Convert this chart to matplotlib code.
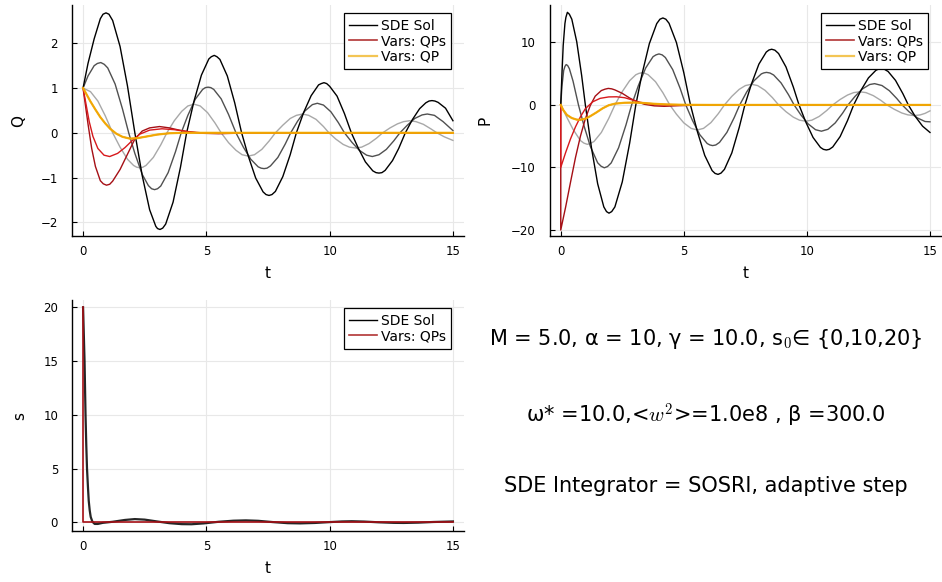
import matplotlib.pyplot as plt
from matplotlib.lines import Line2D

plt.rcParams['font.family'] = ['DejaVu Sans']
plt.rcParams['mathtext.fontset'] = 'cm'

# ---- Q panel ----
q_sde20_t = [0, 0.2, 0.45, 0.7, 0.81, 0.93, 1.05, 1.2, 1.5, 1.8, 2.1, 2.4, 2.7, 2.95, 3.02, 3.12, 3.23,
             3.35, 3.65, 3.95, 4.2, 4.5, 4.8, 5.1, 5.2, 5.32, 5.43, 5.55, 5.85, 6.15, 6.43, 6.7, 7.0,
             7.3, 7.42, 7.54, 7.66, 7.8, 8.1, 8.4, 8.65, 8.95, 9.25, 9.55, 9.66, 9.77, 9.88, 10.0, 10.3,
             10.6, 10.88, 11.15, 11.45, 11.75, 11.88, 12.0, 12.12, 12.25, 12.55, 12.8, 13.07, 13.35,
             13.65, 13.9, 14.03, 14.15, 14.27, 14.4, 14.7, 15.0]
q_sde20 = [1.0, 1.55, 2.1, 2.55, 2.65, 2.68, 2.65, 2.51, 1.93, 1.05, 0.0, -0.96, -1.72, -2.09, -2.14,
           -2.16, -2.13, -2.04, -1.55, -0.77, 0.0, 0.71, 1.29, 1.65, 1.70, 1.73, 1.70, 1.64, 1.27, 0.67,
           0.0, -0.52, -1.01, -1.32, -1.38, -1.40, -1.38, -1.31, -0.98, -0.49, 0.0, 0.46, 0.83, 1.07,
           1.10, 1.12, 1.10, 1.04, 0.82, 0.43, 0.0, -0.33, -0.65, -0.85, -0.89, -0.90, -0.89, -0.84,
           -0.62, -0.35, 0.0, 0.29, 0.54, 0.67, 0.71, 0.72, 0.71, 0.68, 0.55, 0.27]

q_sde10_t = [0, 0.2, 0.45, 0.58, 0.72, 0.86, 1.0, 1.3, 1.6, 1.85, 2.1, 2.4, 2.65, 2.78, 2.9, 3.02, 3.15,
             3.45, 3.75, 3.98, 4.25, 4.55, 4.85, 4.96, 5.07, 5.18, 5.3, 5.6, 5.9, 6.2, 6.5, 6.8, 7.1,
             7.22, 7.34, 7.46, 7.6, 7.9, 8.2, 8.42, 8.7, 9.0, 9.3, 9.5, 9.75, 10.05, 10.35, 10.6, 10.9,
             11.2, 11.5, 11.73, 12.0, 12.3, 12.6, 12.85, 13.15, 13.45, 13.75, 13.96, 14.25, 14.6, 15.0]
q_sde10 = [1.0, 1.27, 1.5, 1.55, 1.57, 1.53, 1.45, 1.09, 0.53, 0.0, -0.46, -0.93, -1.18, -1.25, -1.27,
           -1.25, -1.19, -0.89, -0.42, 0.0, 0.39, 0.75, 0.97, 1.01, 1.02, 1.01, 0.97, 0.76, 0.41, 0.0,
           -0.32, -0.59, -0.76, -0.79, -0.80, -0.79, -0.74, -0.55, -0.25, 0.0, 0.26, 0.49, 0.63, 0.66,
           0.62, 0.47, 0.23, 0.0, -0.21, -0.39, -0.50, -0.53, -0.49, -0.37, -0.18, 0.0, 0.17, 0.32,
           0.40, 0.42, 0.39, 0.25, 0.05]

q_sde0_t = [0, 0.3, 0.6, 0.9, 1.2, 1.5, 1.8, 2.05, 2.18, 2.3, 2.42, 2.55, 2.85, 3.15, 3.4, 3.7, 4.0,
            4.25, 4.5, 4.75, 5.05, 5.35, 5.6, 5.9, 6.2, 6.45, 6.7, 6.95, 7.25, 7.55, 7.8, 8.1, 8.4, 8.65,
            8.9, 9.15, 9.45, 9.75, 9.97, 10.25, 10.55, 10.8, 11.05, 11.3, 11.6, 11.9, 12.15, 12.45,
            12.75, 13.0, 13.25, 13.5, 13.8, 14.1, 14.35, 14.65, 15.0]
q_sde0 = [1.0, 0.92, 0.71, 0.38, 0.0, -0.32, -0.59, -0.73, -0.77, -0.78, -0.77, -0.73, -0.55, -0.27,
          0.0, 0.27, 0.48, 0.60, 0.64, 0.60, 0.45, 0.22, 0.0, -0.22, -0.39, -0.49, -0.52, -0.49, -0.37,
          -0.18, 0.0, 0.17, 0.32, 0.39, 0.42, 0.39, 0.30, 0.14, 0.0, -0.14, -0.26, -0.32, -0.34, -0.32,
          -0.24, -0.12, 0.0, 0.11, 0.20, 0.25, 0.27, 0.25, 0.19, 0.09, 0.0, -0.09, -0.17]

q_qps20_t = [0, 0.1, 0.2, 0.35, 0.5, 0.7, 0.82, 0.95, 1.08, 1.2, 1.5, 1.8, 2.1, 2.4, 2.7, 3.1, 3.5, 3.9,
             4.3, 4.8, 5.5, 6.5, 8.0, 15.0]
q_qps20 = [1.0, 0.6, 0.2, -0.35, -0.75, -1.07, -1.14, -1.17, -1.15, -1.08, -0.82, -0.48, -0.14, 0.04,
           0.11, 0.14, 0.11, 0.06, 0.02, -0.01, -0.02, -0.005, 0.0, 0.0]

q_qps10_t = [0, 0.1, 0.25, 0.4, 0.6, 0.85, 1.08, 1.4, 1.7, 2.0, 2.3, 2.7, 3.2, 3.7, 4.2, 4.8, 15.0]
q_qps10 = [1.0, 0.7, 0.25, -0.08, -0.35, -0.5, -0.53, -0.46, -0.33, -0.17, -0.03, 0.06, 0.09, 0.07,
           0.03, 0.0, 0.0]

q_qp_t = [0, 0.15, 0.3, 0.5, 0.7, 0.9, 1.1, 1.35, 1.6, 1.9, 2.2, 2.6, 3.0, 3.5, 4.0, 15.0]
q_qp = [1.0, 0.85, 0.7, 0.52, 0.35, 0.21, 0.09, -0.02, -0.09, -0.13, -0.12, -0.08, -0.04, -0.01, 0.0, 0.0]

# ---- P panel ----
p_sde20_t = [0, 0.05, 0.1, 0.17, 0.21, 0.27, 0.35, 0.45, 0.65, 0.85, 1.0, 1.25, 1.5, 1.75, 1.86, 1.96,
             2.07, 2.2, 2.5, 2.8, 3.05, 3.3, 3.6, 3.9, 4.03, 4.15, 4.27, 4.4, 4.7, 5.0, 5.27, 5.55, 5.85,
             6.15, 6.27, 6.39, 6.51, 6.65, 6.95, 7.25, 7.48, 7.75, 8.05, 8.35, 8.46, 8.57, 8.7, 8.85,
             9.15, 9.45, 9.68, 9.95, 10.25, 10.55, 10.67, 10.79, 10.91, 11.05, 11.35, 11.65, 11.9,
             12.2, 12.5, 12.8, 12.9, 13.02, 13.14, 13.3, 13.6, 13.9, 14.12, 14.4, 14.7, 15.0]
p_sde20 = [0.0, 5.0, 9.5, 13.0, 14.0, 14.8, 14.5, 13.7, 10.1, 4.7, 0.0, -6.9, -12.6, -16.3, -17.05,
           -17.3, -17.05, -16.3, -12.3, -6.1, 0.0, 4.9, 9.8, 13.0, 13.7, 13.9, 13.7, 13.05, 9.97, 5.14,
           0.0, -4.25, -8.07, -10.5, -10.95, -11.1, -10.9, -10.3, -7.67, -3.61, 0.0, 3.38, 6.52, 8.45,
           8.78, 8.9, 8.75, 8.21, 6.07, 2.84, 0.0, -2.69, -5.2, -6.79, -7.1, -7.2, -7.1, -6.72, -5.06,
           -2.5, 0.0, 2.36, 4.32, 5.52, 5.72, 5.8, 5.72, 5.34, 3.92, 1.79, 0.0, -1.83, -3.4, -4.4]

p_sde10_t = [0, 0.05, 0.12, 0.17, 0.22, 0.28, 0.35, 0.5, 0.72, 0.95, 1.2, 1.5, 1.64, 1.77, 1.9, 2.05,
             2.35, 2.65, 2.88, 3.15, 3.45, 3.75, 3.87, 3.99, 4.12, 4.25, 4.55, 4.85, 5.08, 5.35, 5.65,
             5.95, 6.06, 6.17, 6.3, 6.45, 6.75, 7.05, 7.27, 7.55, 7.85, 8.15, 8.25, 8.36, 8.5, 8.65,
             8.95, 9.25, 9.48, 9.75, 10.05, 10.35, 10.59, 10.85, 11.15, 11.45, 11.67, 11.95, 12.25,
             12.55, 12.75, 13.05, 13.35, 13.65, 13.87, 14.15, 14.5, 14.8, 15.0]
p_sde10 = [0.0, 3.0, 5.5, 6.15, 6.45, 6.3, 5.8, 3.8, 0.0, -3.4, -6.6, -9.25, -9.8, -10.05, -9.85, -9.27,
           -6.85, -3.2, 0.0, 3.05, 5.9, 7.71, 8.0, 8.15, 8.0, 7.58, 5.64, 2.65, 0.0, -2.47, -4.76,
           -6.17, -6.4, -6.5, -6.4, -5.99, -4.39, -2.0, 0.0, 2.04, 3.86, 4.96, 5.12, 5.2, 5.1, 4.78,
           3.52, 1.65, 0.0, -1.57, -3.03, -3.96, -4.2, -3.9, -2.88, -1.32, 0.0, 1.34, 2.54, 3.26, 3.4,
           3.1, 2.27, 1.03, 0.0, -1.1, -2.1, -2.65, -2.7]

p_sde0_t = [0, 0.25, 0.5, 0.8, 0.94, 1.08, 1.21, 1.35, 1.65, 1.95, 2.2, 2.5, 2.8, 3.05, 3.18, 3.3, 3.42,
            3.55, 3.85, 4.15, 4.43, 4.7, 5.0, 5.3, 5.55, 5.8, 6.1, 6.4, 6.65, 6.95, 7.25, 7.5, 7.75, 8.0,
            8.3, 8.6, 8.85, 9.15, 9.45, 9.7, 9.95, 10.2, 10.5, 10.8, 11.05, 11.35, 11.65, 11.9, 12.15,
            12.4, 12.7, 13.0, 13.25, 13.55, 13.85, 14.1, 14.35, 14.6, 14.8, 15.0]
p_sde0 = [0.0, -2.0, -3.9, -5.7, -6.1, -6.3, -6.15, -5.85, -4.4, -2.16, 0.0, 2.13, 3.88, 4.82, 5.05,
          5.14, 5.05, 4.83, 3.71, 1.95, 0.0, -1.48, -2.87, -3.76, -4.0, -3.75, -2.83, -1.4, 0.0, 1.37,
          2.49, 3.09, 3.3, 3.09, 2.33, 1.16, 0.0, -1.08, -1.96, -2.44, -2.6, -2.44, -1.84, -0.91, 0.0,
          0.87, 1.58, 1.97, 2.1, 1.97, 1.48, 0.74, 0.0, -0.7, -1.28, -1.59, -1.7, -1.6, -1.35, -0.95]

p_qps20_t = [0, 0, 0.2, 0.4, 0.6, 0.8, 1.0, 1.2, 1.4, 1.65, 1.8, 1.93, 2.07, 2.2, 2.5, 2.8, 3.1, 3.4,
             3.8, 4.2, 4.8, 5.5, 6.5, 15.0]
p_qps20 = [0.0, -20.0, -16.3, -12.3, -8.4, -5.0, -2.2, -0.1, 1.4, 2.3, 2.52, 2.64, 2.57, 2.4, 1.85, 1.1,
           0.5, 0.1, -0.15, -0.22, -0.12, -0.04, 0.0, 0.0]

p_qps10_t = [0, 0, 0.2, 0.4, 0.6, 0.8, 1.0, 1.3, 1.6, 1.95, 2.27, 2.6, 2.9, 3.2, 3.6, 4.0, 4.5, 5.2,
             6.0, 15.0]
p_qps10 = [0.0, -10.0, -7.6, -5.4, -3.5, -1.9, -0.6, 0.5, 1.05, 1.28, 1.3, 1.15, 0.8, 0.45, 0.15, 0.0,
           -0.05, -0.02, 0.0, 0.0]

p_qp_t = [0, 0.1, 0.25, 0.45, 0.65, 0.8, 1.0, 1.2, 1.45, 1.7, 1.95, 2.2, 2.6, 3.0, 3.4, 3.8, 4.3, 5.0,
          6.0, 15.0]
p_qp = [0.0, -0.8, -1.6, -2.1, -2.35, -2.38, -2.2, -1.8, -1.2, -0.55, -0.05, 0.2, 0.35, 0.38, 0.3, 0.18,
        0.08, 0.02, 0.0, 0.0]

# ---- s panel ----
s_sde_t = [0, 0.03, 0.06, 0.1, 0.13, 0.16, 0.2, 0.23, 0.27, 0.31, 0.38, 0.47, 0.6, 0.8, 1.2, 1.7, 2.1,
           2.5, 3.0, 3.5, 4.0, 4.4, 4.9, 5.5, 6.1, 6.6, 7.1, 7.7, 8.3, 8.8, 9.4, 10.0, 10.5, 10.9, 11.4,
           12.0, 12.6, 13.0, 13.6, 14.2, 15.0]
s_sde = [20.0, 17.5, 15.0, 10.0, 7.2, 5.0, 3.2, 2.0, 1.1, 0.5, 0.05, -0.15, -0.15, -0.05, 0.05, 0.22,
         0.3, 0.25, 0.08, -0.08, -0.17, -0.18, -0.1, 0.05, 0.15, 0.18, 0.14, 0.02, -0.08, -0.1, -0.06,
         0.02, 0.08, 0.1, 0.07, 0.0, -0.05, -0.06, -0.03, 0.03, 0.08]
s_qps_t = [0, 0, 15.0]
s_qps = [20.0, 0.0, 0.0]

x_ticks = [0, 5, 10, 15]
q_ticks = [-2, -1, 0, 1, 2]
p_ticks = [-20, -10, 0, 10]
s_ticks = [0, 5, 10, 15, 20]

info_lines = [
    "M = 5.0, α = 10, γ = 10.0, s$_0$∈ {0,10,20}",
    "ω* =10.0,<$w^2$>=1.0e8 , β =300.0",
    "SDE Integrator = SOSRI, adaptive step",
]

c_black, c_dgray, c_lgray = '#000000', '#505050', '#a8a8a8'
c_red20, c_red10, c_red0 = '#a50f15', '#d7191c', '#f03b20'
c_gold = '#f2b200'


def style_axes(ax, ylabel, yticks, ylim, ylab_x):
    ax.set_xlim(-0.45, 15.45)
    ax.set_ylim(*ylim)
    ax.set_xticks(x_ticks)
    ax.set_yticks(yticks)
    ax.grid(True, color='#e8e8e8', linewidth=0.8)
    ax.set_axisbelow(True)
    for side in ['top', 'right']:
        ax.spines[side].set_visible(False)
    for side in ['left', 'bottom']:
        ax.spines[side].set_linewidth(1.0)
    ax.tick_params(axis='both', direction='in', length=3.5, width=0.8, labelsize=8.5)
    ax.tick_params(axis='x', pad=6.5)
    ax.tick_params(axis='y', pad=10)
    ax.set_xlabel('t', fontsize=11)
    ax.set_ylabel(ylabel, fontsize=11)
    ax.xaxis.set_label_coords(0.5, -0.13)
    ax.yaxis.set_label_coords(ylab_x, 0.5)


def add_legend(ax, n):
    handles = [Line2D([], [], color=c_black, lw=1.0),
               Line2D([], [], color='#b23535', lw=1.2),
               Line2D([], [], color='#f3c554', lw=1.6)][:n]
    labels = ['SDE Sol', 'Vars: QPs', 'Vars: QP'][:n]
    leg = ax.legend(handles, labels, loc='upper right', bbox_to_anchor=(0.967, 0.964),
                    fontsize=10, frameon=True, fancybox=False, framealpha=1, edgecolor='black',
                    handlelength=2.0, handletextpad=0.25, borderpad=0.4, labelspacing=0.1,
                    borderaxespad=0)
    leg.get_frame().set_linewidth(0.9)


fig = plt.figure(figsize=(9.42, 5.82), dpi=100)
ax_q = fig.add_axes([0.0764, 0.5945, 0.4162, 0.3969])
ax_p = fig.add_axes([0.5835, 0.5945, 0.4155, 0.3969])
ax_s = fig.add_axes([0.0764, 0.0876, 0.4162, 0.3969])

line_kw = dict(lw=1.0, solid_joinstyle='round')

# Q
ax_q.plot(q_sde0_t, q_sde0, color=c_lgray, **line_kw)
ax_q.plot(q_sde10_t, q_sde10, color=c_dgray, **line_kw)
ax_q.plot(q_sde20_t, q_sde20, color=c_black, **line_kw)
ax_q.plot(q_qps20_t, q_qps20, color=c_red20, **line_kw)
ax_q.plot(q_qps10_t, q_qps10, color=c_red10, **line_kw)
ax_q.plot(q_qp_t, q_qp, color=c_red0, **line_kw)
ax_q.plot(q_qp_t, q_qp, color=c_gold, lw=1.6, alpha=0.9, solid_joinstyle='round')
style_axes(ax_q, 'Q', q_ticks, (-2.306, 2.856), -0.118)
add_legend(ax_q, 3)

# P
ax_p.plot(p_sde0_t, p_sde0, color=c_lgray, **line_kw)
ax_p.plot(p_sde10_t, p_sde10, color=c_dgray, **line_kw)
ax_p.plot(p_sde20_t, p_sde20, color=c_black, **line_kw)
ax_p.plot(p_qps20_t, p_qps20, color=c_red20, **line_kw)
ax_p.plot(p_qps10_t, p_qps10, color=c_red10, **line_kw)
ax_p.plot(p_qp_t, p_qp, color=c_red0, **line_kw)
ax_p.plot(p_qp_t, p_qp, color=c_gold, lw=1.6, alpha=0.9, solid_joinstyle='round')
style_axes(ax_p, 'P', p_ticks, (-20.95, 15.97), -0.145)
add_legend(ax_p, 3)

# s
ax_s.plot(s_sde_t, s_sde, color=c_black, lw=1.6, alpha=0.85, solid_joinstyle='round')
ax_s.plot(s_qps_t, s_qps, color=c_red20, lw=1.2)
style_axes(ax_s, 's', s_ticks, (-0.81, 20.68), -0.115)
add_legend(ax_s, 2)

for y, line in zip([0.4175, 0.285, 0.165], info_lines):
    fig.text(0.7495, y, line, ha='center', va='center', fontsize=15)

fig.savefig('out.png', dpi=100)
